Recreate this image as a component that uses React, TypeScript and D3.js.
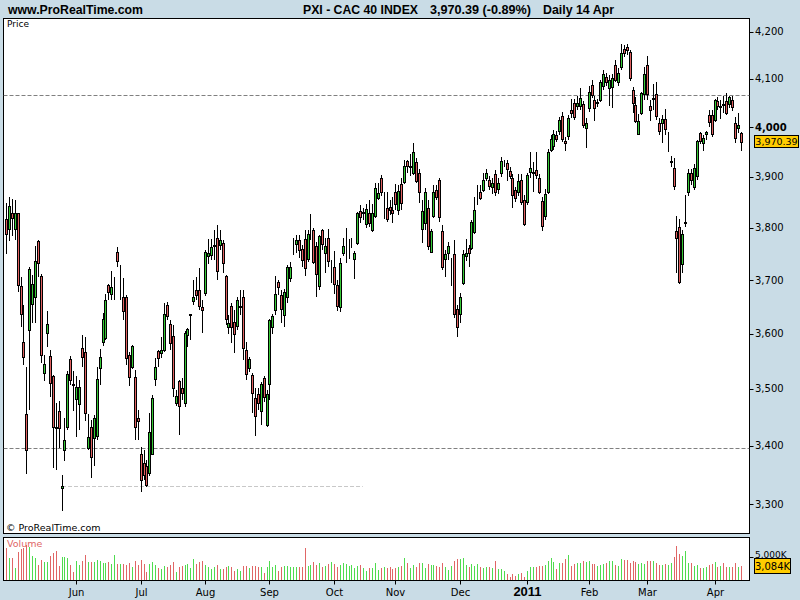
import React from 'react';
import * as d3 from 'd3';

// ---- Data: CAC 40 daily bars, 28 Apr 2010 .. 14 Apr 2011 ----
const opens = [
  3816,3798,3829,3798,3828,3688,3584,3455,3607,3655,
  3667,3775,3707,3528,3602,3559,3523,3433,3460,3327,
  3393,3433,3553,3509,3481,3473,3573,3567,3396,3433,
  3413,3416,3537,3584,3591,3690,3674,3688,3753,3705,
  3667,3667,3561,3539,3521,3448,3386,3370,3364,3353,
  3386,3517,3568,3565,3570,3653,3617,3595,3475,3514,
  3501,3474,3598,3635,3661,3681,3681,3649,3676,3746,
  3748,3765,3781,3766,3770,3707,3612,3651,3621,3614,
  3650,3667,3570,3537,3525,3483,3491,3460,3519,3436,
  3508,3612,3643,3696,3671,3634,3667,3703,3766,3768,
  3777,3758,3779,3739,3785,3796,3764,3688,3796,3751,
  3781,3716,3724,3690,3650,3752,3770,3764,3770,3739,
  3770,3833,3829,3808,3829,3796,3822,3858,3897,3854,
  3838,3840,3834,3870,3835,3886,3890,3932,3920,3908,
  3930,3908,3798,3810,3838,3753,3822,3874,3894,3793,
  3739,3751,3730,3750,3646,3636,3695,3745,3760,3760,
  3791,3860,3869,3874,3897,3893,3880,3906,3876,3908,
  3927,3928,3911,3897,3874,3869,3894,3855,3850,3910,
  3908,3914,3897,3852,3822,3869,3953,3962,3985,3992,
  4023,3973,3982,4035,4050,4043,4043,4047,3998,4039,
  4088,4056,4050,4057,4086,4104,4081,4084,4130,4093,
  4126,4163,4168,4156,4077,4046,3986,4030,4068,4129,
  4043,4059,4069,4008,4008,4017,3974,3930,3917,3793,
  3802,3730,3810,3869,3908,3879,3902,3988,3967,3986,
  4025,4026,4015,4054,4042,4048,4053,4048,4056,4009,
  3999,3988,
];
const highs = [
  3848,3860,3857,3854,3829,3705,3653,3540,3725,3709,
  3764,3776,3712,3560,3642,3570,3525,3474,3478,3350,
  3449,3531,3559,3531,3522,3516,3598,3594,3455,3445,
  3453,3540,3572,3638,3673,3693,3717,3705,3762,3728,
  3703,3671,3567,3579,3534,3462,3397,3392,3375,3457,
  3489,3555,3570,3594,3656,3659,3625,3616,3498,3516,
  3520,3604,3610,3636,3700,3706,3722,3662,3757,3779,
  3779,3795,3805,3795,3776,3709,3634,3656,3644,3668,
  3681,3681,3585,3557,3528,3501,3501,3513,3522,3498,
  3627,3636,3707,3700,3681,3683,3728,3734,3781,3786,
  3786,3766,3795,3796,3826,3800,3772,3786,3798,3781,
  3798,3738,3756,3700,3742,3781,3800,3779,3780,3756,
  3831,3844,3838,3847,3855,3847,3888,3888,3903,3869,
  3869,3854,3860,3885,3884,3898,3934,3934,3946,3967,
  3938,3916,3855,3878,3854,3798,3884,3884,3897,3805,
  3757,3772,3741,3776,3653,3675,3757,3779,3766,3815,
  3860,3884,3884,3908,3916,3902,3898,3913,3898,3940,
  3934,3933,3920,3906,3880,3906,3906,3864,3908,3950,
  3929,3950,3906,3860,3876,3955,3985,3995,3993,4022,
  4031,3980,4025,4059,4059,4065,4080,4055,4019,4086,
  4098,4064,4058,4098,4119,4112,4109,4110,4140,4123,
  4174,4171,4174,4161,4084,4063,4027,4073,4124,4148,
  4056,4089,4093,4019,4025,4037,3990,3941,3938,3822,
  3817,3796,3864,3916,3916,3926,3974,3991,3984,3993,
  4035,4035,4059,4062,4056,4065,4071,4065,4065,4020,
  4030,3991,
];
const lows = [
  3750,3775,3783,3776,3678,3613,3542,3351,3462,3620,
  3620,3706,3546,3514,3576,3486,3362,3358,3395,3288,
  3374,3427,3507,3461,3414,3427,3540,3442,3392,3344,
  3364,3410,3507,3577,3588,3662,3662,3662,3724,3662,
  3625,3543,3505,3535,3410,3410,3321,3341,3328,3348,
  3383,3505,3540,3555,3567,3625,3570,3486,3470,3418,
  3480,3468,3575,3588,3653,3662,3644,3601,3669,3730,
  3738,3738,3700,3757,3713,3616,3599,3582,3564,3607,
  3634,3552,3516,3530,3457,3416,3462,3436,3477,3432,
  3480,3599,3634,3672,3620,3613,3656,3697,3747,3751,
  3741,3724,3707,3734,3776,3731,3667,3681,3757,3713,
  3725,3695,3674,3641,3639,3745,3732,3739,3760,3702,
  3766,3810,3815,3800,3802,3792,3818,3854,3862,3817,
  3812,3825,3809,3834,3825,3834,3886,3907,3902,3904,
  3887,3848,3771,3796,3757,3751,3818,3854,3812,3719,
  3705,3738,3688,3629,3594,3620,3690,3736,3724,3757,
  3787,3844,3854,3870,3892,3874,3866,3862,3866,3900,
  3920,3892,3895,3838,3850,3862,3844,3803,3844,3898,
  3869,3895,3866,3793,3815,3866,3950,3954,3970,3985,
  3970,3952,3974,4019,4015,4035,4035,3998,3957,4031,
  4061,4012,4042,4052,4077,4086,4043,4040,4093,4086,
  4119,4146,4151,4095,4030,4009,3984,4025,4056,4056,
  4013,4035,4015,3985,3968,3984,3950,3919,3874,3713,
  3693,3713,3802,3862,3884,3874,3894,3966,3952,3974,
  4000,3981,4011,4035,4017,4030,4025,4039,4033,3968,
  3989,3952,
];
const closes = [
  3787,3842,3818,3829,3690,3637,3557,3392,3721,3693,
  3736,3732,3560,3545,3617,3511,3432,3430,3431,3331,
  3410,3526,3516,3506,3503,3503,3558,3457,3414,3380,
  3448,3517,3557,3627,3662,3677,3686,3689,3736,3706,
  3642,3555,3521,3577,3433,3442,3341,3349,3332,3423,
  3483,3539,3555,3570,3637,3633,3582,3501,3487,3469,
  3493,3601,3608,3636,3667,3672,3652,3643,3753,3751,
  3762,3766,3717,3777,3732,3627,3620,3613,3599,3663,
  3651,3573,3527,3553,3492,3451,3475,3509,3486,3491,
  3625,3633,3674,3686,3646,3678,3724,3725,3767,3776,
  3757,3738,3722,3788,3786,3734,3711,3784,3768,3765,
  3736,3717,3693,3651,3732,3765,3771,3765,3771,3751,
  3829,3821,3830,3836,3810,3829,3877,3867,3869,3855,
  3817,3834,3829,3846,3871,3848,3922,3922,3921,3950,
  3892,3870,3833,3870,3765,3793,3869,3860,3820,3725,
  3750,3764,3731,3637,3612,3668,3750,3751,3751,3812,
  3834,3861,3858,3894,3908,3882,3888,3869,3888,3932,
  3928,3915,3902,3864,3859,3891,3851,3808,3904,3918,
  3909,3904,3870,3803,3866,3950,3976,3986,3977,4015,
  3976,3968,4018,4030,4020,4050,4061,4004,4008,4073,
  4067,4039,4051,4093,4111,4093,4098,4102,4098,4113,
  4155,4154,4160,4101,4050,4013,4013,4071,4111,4069,
  4035,4060,4023,3993,4017,3996,3975,3931,3881,3780,
  3697,3788,3811,3908,3894,3917,3973,3973,3979,3991,
  4010,3987,4056,4043,4043,4045,4030,4062,4041,3978,
  4005,3970.39,
];
// volume in thousands
const volumesK = [
  7130,4925,4925,2720,6248,6762,7130,7718,7350,5292,
  4925,3308,4410,4043,4043,5292,6027,6468,3087,5145,
  4998,4778,3308,1838,4190,3308,4190,5513,4043,4043,
  4043,4410,4190,3822,3822,4043,3455,5513,3455,3528,
  3528,3308,3822,2793,4190,3308,4410,3528,1838,3528,
  4043,3308,2573,2352,3087,2793,3308,4043,1838,2793,
  3087,3308,3528,2573,4631,3528,4043,4190,3308,2793,
  2352,2793,3308,2352,2352,2793,3087,2793,2058,2352,
  2058,3087,3087,2573,3087,3087,2793,2793,1470,2793,
  4190,2793,3308,2058,2793,3087,3087,2793,2793,2793,
  2793,2793,6983,3087,3308,4043,3308,3822,2793,3087,
  3528,4043,3528,2793,3308,3675,3528,3087,3308,2573,
  3087,3308,2573,2058,2573,2573,3675,2205,2573,2793,
  2573,2793,2352,2573,2793,3087,4925,3675,2573,3308,
  2940,3822,3675,2573,3528,3308,3308,3087,2940,3822,
  2793,2205,3087,4263,4631,4557,4925,3308,2793,3528,
  3087,3528,2793,2573,2793,2793,2573,4263,2352,2352,
  2058,1323,588,1323,882,1323,1617,735,2058,2940,
  2793,2940,3087,3087,3308,4263,4778,4043,2352,3675,
  3675,4557,5513,3087,3528,3675,3822,4263,4043,4190,
  3528,3528,3087,3308,3528,3675,4190,4190,3308,3087,
  4557,4410,4410,3675,4190,4043,3528,3675,3528,4190,
  4190,4190,3675,3308,3308,3528,3308,3675,4998,7497,
  5733,5292,6395,3675,3675,3087,3308,2573,2573,2793,
  3308,3528,4043,2793,3087,3675,2793,2793,2940,3822,
  2940,3084,
];
const monthLabels = ['Jun','Jul','Aug','Sep','Oct','Nov','Dec','2011','Feb','Mar','Apr'];
const monthIndex = [24,46,68,90,112,133,155,178,199,219,242];
const priceTicks = [3300,3400,3500,3600,3700,3800,3900,4000,4100,4200];
const dashedLevels = [4066, 3395];
const supportLevel = 3330;
const supportFrom = 19;
const supportTo = 121.7;
const volumeTick = 5000;

const BG = '#c9dce6';
const RED = '#e06060';
const GREEN = '#36c936';
const VRED = '#e06666';
const VGREEN = '#4fdc4f';
const AXF = "'DejaVu Sans', Verdana, sans-serif";
const TF = "'Liberation Sans', Arial, sans-serif";

export default function App() {
  const W = 800, H = 600;
  const pL = 3.5, pR = 749.5, pT = 18.5, pB = 533.5;
  const vT = 537.5, vB = 580.5;
  const n = closes.length;
  const x = d3.scaleLinear().domain([0, n - 1]).range([6.4, 741.4]);
  const y = d3.scaleLog().domain([3300, 4200]).range([504, 31.7]);
  const yv = d3.scaleLinear().domain([0, 5000]).range([580, 557.3]);
  const fmt = d3.format(',');
  const last = closes[n - 1];
  const lastVol = volumesK[n - 1];

  const candles = d3.range(n).map((i) => {
    const c = Math.floor(x(i));
    const up = closes[i] >= opens[i];
    const yTop = Math.round(y(Math.max(opens[i], closes[i])));
    const yBot = Math.round(y(Math.min(opens[i], closes[i])));
    return (
      <g key={i}>
        <line x1={c + 0.5} x2={c + 0.5} y1={Math.round(y(highs[i]))} y2={Math.round(y(lows[i]))}
          stroke="#000" strokeWidth={1} />
        <rect x={c - 0.5} y={yTop + 0.5} width={2} height={Math.max(0, yBot - yTop)}
          fill={up ? GREEN : RED} stroke="#000" strokeWidth={1} />
      </g>
    );
  });

  const vols = d3.range(n).map((i) => {
    const c = Math.floor(x(i));
    const up = closes[i] >= opens[i];
    return (
      <line key={i} x1={c + 0.5} x2={c + 0.5} y1={Math.round(yv(volumesK[i]))} y2={580}
        stroke={up ? VGREEN : VRED} strokeWidth={1} />
    );
  });

  const volBoxY = Math.round(yv(lastVol)) - 7.5;

  return (
    <div style={{ width: W, height: H }}>
      <style>{`body{margin:0}`}</style>
      <svg width={W} height={H} style={{ display: 'block' }}>
        <defs>
          <clipPath id="pclip"><rect x={pL} y={pT} width={pR - pL} height={pB - pT} /></clipPath>
          <clipPath id="vclip"><rect x={pL} y={vT} width={pR - pL} height={vB - vT} /></clipPath>
        </defs>
        <rect x={0} y={0} width={W} height={H} fill={BG} />
        {/* header */}
        <text x={8} y={14} fontFamily={TF} fontWeight="bold" fontSize={12} textLength={135}
          lengthAdjust="spacingAndGlyphs">www.ProRealTime.com</text>
        <text x={303} y={14} fontFamily={TF} fontWeight="bold" fontSize={12} textLength={115}
          lengthAdjust="spacingAndGlyphs">PXI - CAC 40 INDEX</text>
        <text x={430} y={14} fontFamily={TF} fontWeight="bold" fontSize={12} textLength={101}
          lengthAdjust="spacingAndGlyphs">{`${d3.format(',.2f')(last)} (-0.89%)`}</text>
        <text x={543} y={14} fontFamily={TF} fontWeight="bold" fontSize={12} textLength={71}
          lengthAdjust="spacingAndGlyphs">Daily  14 Apr</text>

        {/* price panel */}
        <rect x={pL} y={pT} width={pR - pL} height={pB - pT} fill="#fff" stroke="#000" strokeWidth={1} />
        <g clipPath="url(#pclip)">
          {dashedLevels.map((v, k) => (
            <line key={k} x1={pL} x2={pR} y1={Math.round(y(v)) + 0.5} y2={Math.round(y(v)) + 0.5}
              stroke="#808080" strokeWidth={1} strokeDasharray="4 2" />
          ))}
          <line x1={x(supportFrom)} x2={x(supportTo)} y1={Math.round(y(supportLevel)) + 0.5}
            y2={Math.round(y(supportLevel)) + 0.5} stroke="#c8c8c8" strokeWidth={1} strokeDasharray="4 2" />
          {candles}
        </g>
        <text x={7} y={27} fontFamily={AXF} fontSize={9}>Price</text>
        <text x={6} y={531} fontFamily={AXF} fontSize={9.5}>© ProRealTime.com</text>

        {/* price axis */}
        {priceTicks.map((v) => (
          <g key={v}>
            <line x1={pR} x2={pR + 4} y1={Math.round(y(v)) + 0.5} y2={Math.round(y(v)) + 0.5} stroke="#000" />
            <text x={755} y={y(v)} dy="0.36em" fontFamily={AXF} fontSize={10}
              fontWeight={v % 1000 === 0 ? 'bold' : 'normal'}>{fmt(v)}</text>
          </g>
        ))}
        <rect x={754.5} y={Math.round(y(last)) - 6.5} width={44} height={12} fill="#ffcc00" stroke="#000" />
        <text x={776.5} y={y(last)} dy="0.36em" textAnchor="middle" fontFamily={AXF} fontSize={9.5}>
          {d3.format(',.2f')(last)}
        </text>

        {/* volume panel */}
        <rect x={pL} y={vT} width={pR - pL} height={vB - vT} fill="#fff" stroke="#000" strokeWidth={1} />
        <g clipPath="url(#vclip)">{vols}</g>
        <text x={7} y={547} fontFamily={AXF} fontSize={9.5} fill={VRED}>Volume</text>
        <line x1={pR} x2={pR + 4} y1={Math.round(yv(volumeTick)) + 0.5} y2={Math.round(yv(volumeTick)) + 0.5} stroke="#000" />
        <text x={755} y={volBoxY - 0.5} fontFamily={AXF} fontSize={9}>{fmt(volumeTick)}K</text>
        <rect x={754.5} y={volBoxY} width={36} height={15} fill="#ffcc00" stroke="#000" />
        <text x={772.5} y={volBoxY + 11.5} textAnchor="middle" fontFamily={AXF} fontSize={10}>
          {fmt(lastVol)}K
        </text>

        {/* x axis */}
        {monthIndex.map((idx, k) => {
          const xx = Math.floor(x(idx)) + 0.5;
          const yr = monthLabels[k] === '2011';
          return (
            <g key={k}>
              <line x1={xx} x2={xx} y1={vB} y2={vB + 4} stroke="#000" />
              <text x={xx} y={596} textAnchor="middle"
                fontFamily={yr ? TF : AXF} fontSize={yr ? 13 : 10} fontWeight={yr ? 'bold' : 'normal'}>
                {monthLabels[k]}
              </text>
            </g>
          );
        })}
      </svg>
    </div>
  );
}
